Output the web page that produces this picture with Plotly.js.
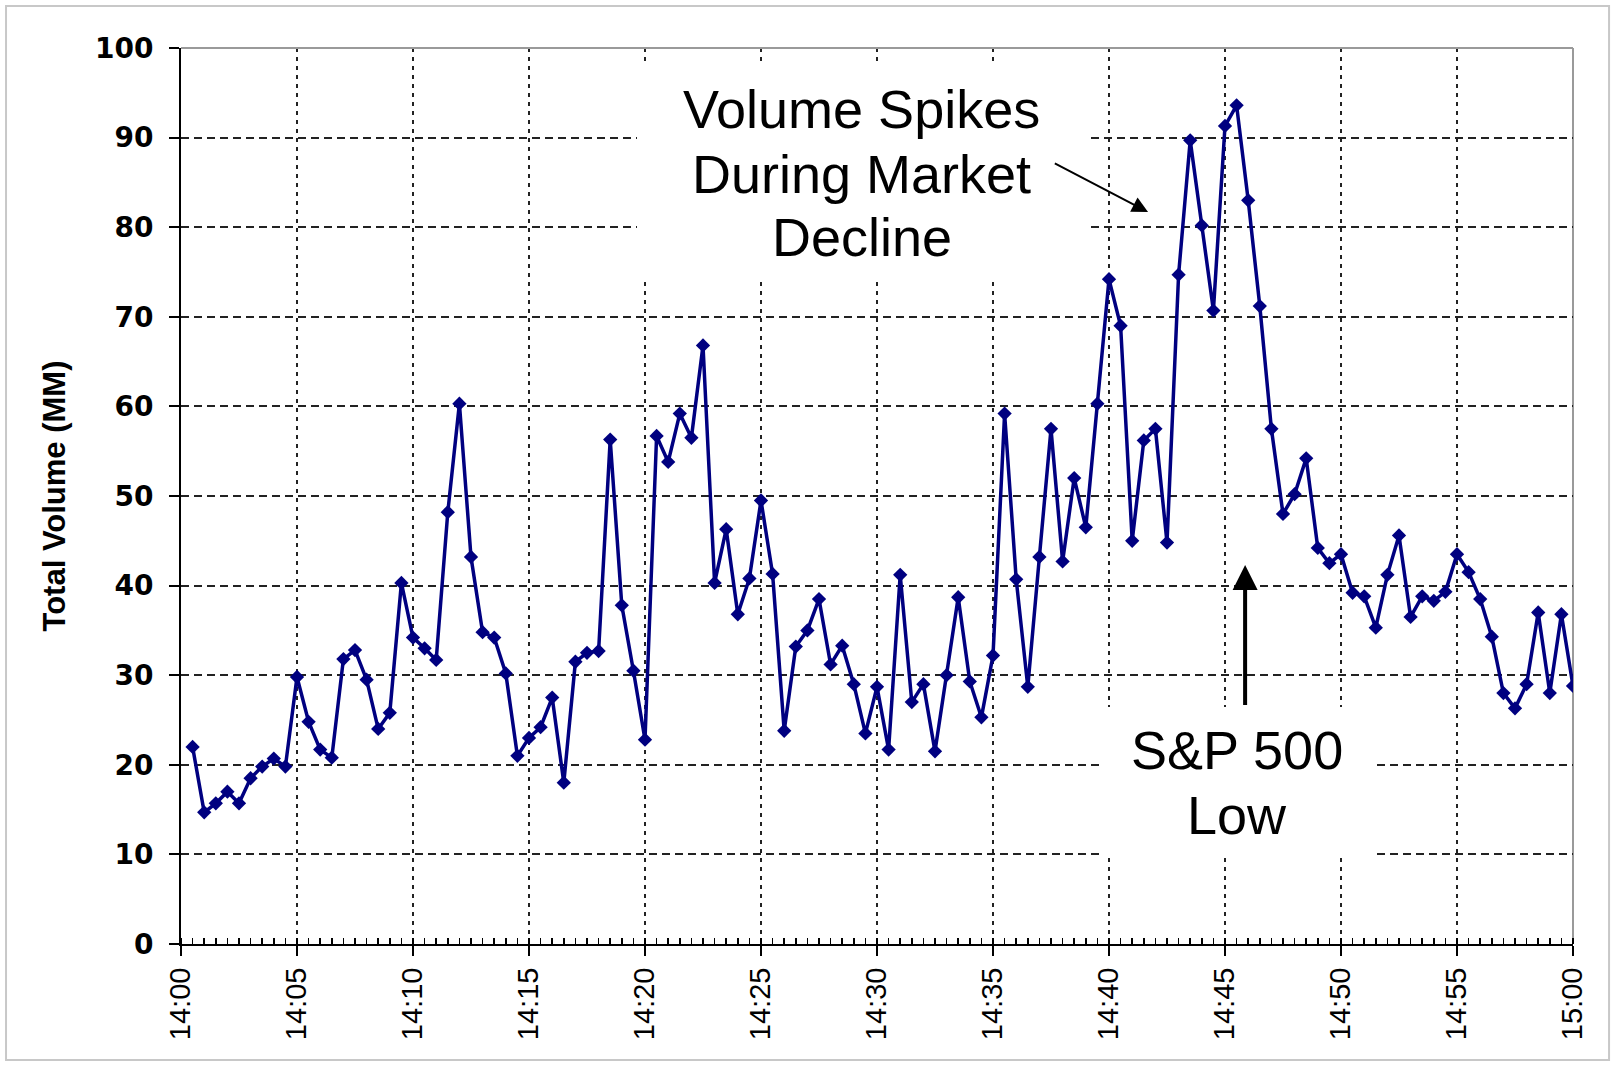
<!DOCTYPE html>
<html>
<head>
<meta charset="utf-8">
<script src="https://cdn.plot.ly/plotly-3.0.1.min.js"></script>
<style>
  html, body { margin: 0; padding: 0; background: #ffffff; }
  #chart { width: 1614px; height: 1066px; }
</style>
</head>
<body>
<div id="chart"></div>
<script>
// Sampling: one reading every 30 seconds, from 14:00:30 to 15:00:00
const sessionDate = "2010-05-06";
const startTime = "14:00:30";
const stepSeconds = 30;

// Total volume (millions of shares) per 30-second interval
const totalVolumeMM = [
  22.0, 14.7, 15.7, 17.0, 15.7, 18.5, 19.8, 20.7, 19.8, 29.8,
  24.8, 21.7, 20.8, 31.8, 32.8, 29.5, 24.0, 25.8, 40.3, 34.2,
  33.0, 31.7, 48.2, 60.3, 43.2, 34.8, 34.2, 30.2, 21.0, 23.0,
  24.2, 27.5, 18.0, 31.5, 32.5, 32.7, 56.3, 37.8, 30.5, 22.8,
  56.7, 53.8, 59.2, 56.5, 66.8, 40.3, 46.3, 36.8, 40.8, 49.5,
  41.3, 23.8, 33.2, 35.0, 38.5, 31.2, 33.3, 29.0, 23.5, 28.7,
  21.7, 41.2, 27.0, 29.0, 21.5, 30.0, 38.7, 29.3, 25.3, 32.2,
  59.2, 40.7, 28.7, 43.2, 57.5, 42.7, 52.0, 46.5, 60.3, 74.2,
  69.0, 45.0, 56.2, 57.5, 44.8, 74.7, 89.7, 80.2, 70.7, 91.3,
  93.6, 83.0, 71.2, 57.5, 48.0, 50.2, 54.2, 44.2, 42.5, 43.5,
  39.2, 38.8, 35.3, 41.2, 45.6, 36.5, 38.8, 38.3, 39.3, 43.5,
  41.5, 38.5, 34.3, 28.0, 26.3, 29.0, 37.0, 28.0, 36.8, 28.8
];

// Axis
const xRangeStart = "14:00:00";
const xRangeEnd = "15:00:00";
const yTickValues = [0, 10, 20, 30, 40, 50, 60, 70, 80, 90, 100];
const yAxisTitle = "Total Volume (MM)";

// Annotation texts (one entry per line)
const spikeLines = ["Volume Spikes", "During Market", "Decline"];
const lowLines = ["S&amp;P 500", "Low"];

// ---- build timestamps for the x axis ----
function pad(n) { return (n < 10 ? "0" : "") + n; }
function toSec(hms) { const p = hms.split(":").map(Number); return p[0]*3600 + p[1]*60 + p[2]; }
function stamp(sec) {
  const h = Math.floor(sec / 3600), m = Math.floor((sec % 3600) / 60), s = sec % 60;
  return sessionDate + " " + pad(h) + ":" + pad(m) + ":" + pad(s);
}
const times = totalVolumeMM.map((v, i) => stamp(toSec(startTime) + i * stepSeconds));
const at = hms => sessionDate + " " + hms;

const navy = "#000080";
const gridCol = "#222222";
const textFont = { family: "Liberation Sans, Arial, sans-serif", size: 54, color: "#000000" };

const trace = {
  type: "scatter",
  mode: "lines+markers",
  x: times,
  y: totalVolumeMM,
  line: { color: navy, width: 3.5 },
  marker: { symbol: "diamond", size: 11, color: navy },
  hoverinfo: "x+y"
};

// white label boxes (drawn over the grid)
const boxes = [
  { x: at("14:29:21"), y: 86.0, width: 450, height: 214 },
  { x: at("14:45:30"), y: 18.2, width: 273, height: 148 }
].map(b => ({
  text: " ", xref: "x", yref: "y", x: b.x, y: b.y, xanchor: "center", yanchor: "middle",
  width: b.width, height: b.height, bgcolor: "#ffffff", borderpad: 0, borderwidth: 0,
  showarrow: false, font: { size: 10 }
}));

const spikeY = [93.15, 85.95, 78.95];
const lowY = [21.6, 14.4];
const textAnns = [].concat(
  spikeLines.map((t, i) => ({ text: t, xref: "x", yref: "y", x: at("14:29:21"), y: spikeY[i],
    xanchor: "center", yanchor: "middle", showarrow: false, font: textFont })),
  lowLines.map((t, i) => ({ text: t, xref: "x", yref: "y", x: at("14:45:30"), y: lowY[i],
    xanchor: "center", yanchor: "middle", showarrow: false, font: textFont }))
);

const arrows = [
  { text: "", xref: "x", yref: "y", axref: "x", ayref: "y",
    x: at("14:41:41"), y: 81.7, ax: at("14:37:36"), ay: 87.2,
    showarrow: true, arrowhead: 2, arrowwidth: 2, arrowsize: 1.6, arrowcolor: "#000000", standoff: 0 },
  { text: "", xref: "x", yref: "y", axref: "x", ayref: "y",
    x: at("14:45:52"), y: 42.3, ax: at("14:45:52"), ay: 26.5,
    showarrow: true, arrowhead: 2, arrowwidth: 4, arrowsize: 1.25, arrowcolor: "#000000", standoff: 0 }
];

const layout = {
  width: 1614,
  height: 1066,
  margin: { l: 181, r: 41, t: 48, b: 122 },
  paper_bgcolor: "#ffffff",
  plot_bgcolor: "#ffffff",
  showlegend: false,
  font: { family: "Liberation Sans, Arial, sans-serif", color: "#000000" },
  xaxis: {
    type: "date",
    range: [at(xRangeStart), at(xRangeEnd)],
    tick0: at(xRangeStart),
    dtick: 300000,
    tickformat: "%H:%M",
    tickangle: -90,
    tickfont: { family: "Liberation Sans, Arial, sans-serif", size: 29, color: "#000000" },
    ticks: "outside",
    ticklen: 10,
    tickwidth: 2,
    tickcolor: "#000000",
    showline: true,
    linecolor: "#000000",
    linewidth: 2,
    showgrid: true,
    gridcolor: gridCol,
    gridwidth: 2,
    griddash: "4px,5px",
    zeroline: false,
    minor: { dtick: 30000, ticks: "inside", ticklen: 6, tickwidth: 1.5, tickcolor: "#000000", showgrid: false },
    fixedrange: true
  },
  yaxis: {
    range: [0, 100],
    tickvals: yTickValues,
    tickfont: { family: "DejaVu Sans, Verdana, sans-serif", size: 28, weight: "bold", color: "#000000" },
    ticklabelstandoff: 10,
    ticks: "outside",
    ticklen: 10,
    tickwidth: 2,
    tickcolor: "#000000",
    showline: true,
    linecolor: "#000000",
    linewidth: 2,
    showgrid: true,
    gridcolor: gridCol,
    gridwidth: 2,
    griddash: "8px,5px",
    zeroline: false,
    title: {
      text: yAxisTitle,
      font: { family: "Liberation Sans, Arial, sans-serif", size: 31, weight: "bold", color: "#000000" },
      standoff: 20
    },
    fixedrange: true
  },
  shapes: [
    { type: "rect", xref: "paper", yref: "paper", x0: -0.1257, x1: 1.0259, y0: -0.1295, y1: 1.0469,
      line: { color: "#c8c8c8", width: 2 }, fillcolor: "rgba(0,0,0,0)", layer: "below" },
    { type: "line", xref: "paper", yref: "paper", x0: 0, x1: 1, y0: 1, y1: 1,
      line: { color: "#9a9a9a", width: 2 }, layer: "above" },
    { type: "line", xref: "paper", yref: "paper", x0: 1, x1: 1, y0: 0, y1: 1,
      line: { color: "#9a9a9a", width: 2 }, layer: "below" }
  ],
  annotations: boxes.concat(textAnns, arrows)
};

Plotly.newPlot("chart", [trace], layout, { displayModeBar: false, staticPlot: true });
</script>
</body>
</html>
